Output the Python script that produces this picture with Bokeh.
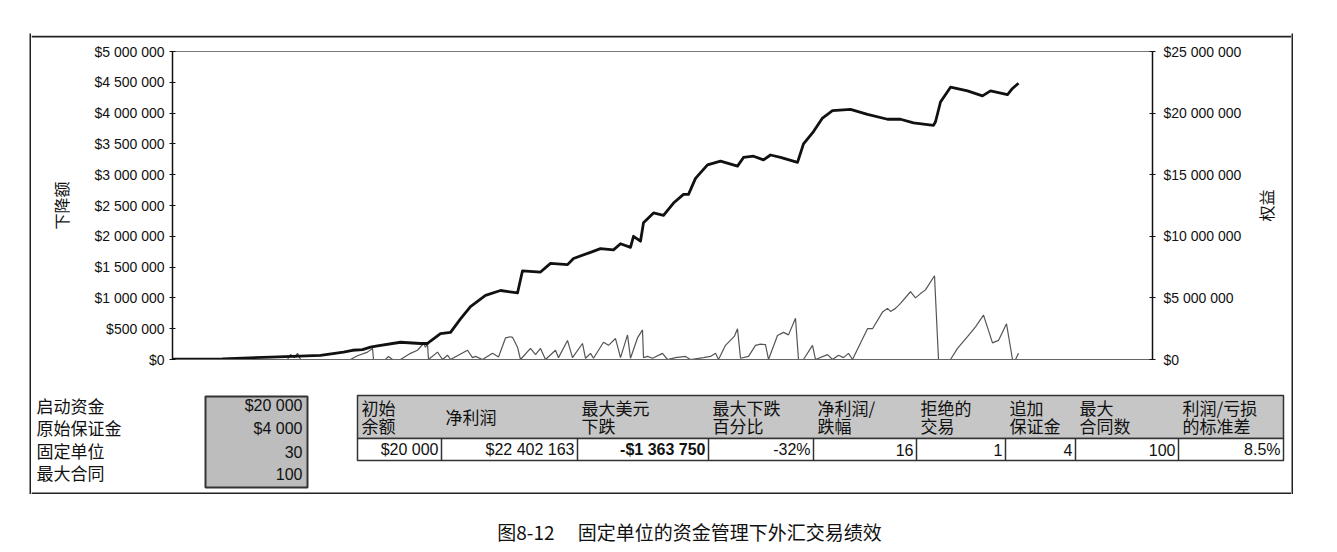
import math
from bokeh.plotting import figure
from bokeh.models import Range1d, LinearAxis, FixedTicker, Spacer, Plot
from bokeh.layouts import column, row
from bokeh.core.properties import value
from bokeh.embed import file_html
from bokeh.resources import INLINE

# ---------------- data ----------------
# trade sequence index (x) and equity in millions of dollars
equity_t = [0, 50, 98, 120, 148, 171, 180, 190, 198, 205, 228, 248, 255, 258, 268, 278, 288, 298,
            313, 328, 345, 350, 368, 378, 395, 401, 418, 428, 441, 448, 458, 461, 468, 471, 481,
            491, 501, 511, 516, 523, 535, 548, 565, 571, 581, 591, 598, 608, 625, 631, 641, 650,
            660, 678, 695, 715, 728, 741, 761, 763, 768, 778, 795, 810, 818, 835, 840, 846]
equity_musd = [0.02, 0.05, 0.2, 0.25, 0.33, 0.6, 0.75, 0.8, 1.0, 1.1, 1.4, 1.3, 1.3, 1.5, 2.1, 2.2, 3.3, 4.3,
               5.2, 5.6, 5.4, 7.2, 7.1, 7.8, 7.7, 8.2, 8.7, 9.0, 8.9, 9.4, 9.1, 10.0, 9.6, 11.1, 11.9,
               11.7, 12.7, 13.4, 13.4, 14.7, 15.8, 16.1, 15.7, 16.4, 16.5, 16.2, 16.6, 16.4, 16.0, 17.5, 18.5, 19.6,
               20.2, 20.3, 19.9, 19.5, 19.5, 19.2, 19.0, 19.3, 20.9, 22.1, 21.8, 21.4, 21.8, 21.5, 22.0, 22.42]

# drawdown in millions of dollars
drawdown_t = [0, 115, 118, 122, 125, 128, 178, 185, 195, 200, 201, 213, 216, 220, 228, 238, 245, 251, 253,
              255, 256, 265, 270, 275, 278, 295, 300, 303, 310, 320, 326, 333, 338, 340, 345, 348, 358,
              363, 368, 373, 383, 386, 395, 400, 410, 413, 418, 421, 431, 436, 443, 448, 455, 458, 465,
              470, 471, 475, 480, 490, 495, 503, 513, 518, 531, 538, 543, 546, 553, 562, 565, 568, 576,
              583, 588, 593, 596, 605, 611, 616, 623, 626, 631, 640, 643, 655, 660, 666, 671, 676, 680,
              695, 700, 710, 715, 718, 723, 728, 738, 743, 748, 753, 762, 766, 778, 785, 795, 803, 811,
              820, 826, 834, 840, 843, 846]
drawdown_musd = [0, 0, 0.08, 0.03, 0.1, 0, 0, 0.06, 0.12, 0.18, 0, 0, 0.05, 0, 0, 0.1, 0.15, 0.26, 0.2,
                 0.25, 0, 0.12, 0, 0.07, 0, 0.15, 0.03, 0.05, 0, 0.1, 0.04, 0.35, 0.37, 0.36, 0.2, 0, 0.18,
                 0.08, 0.18, 0, 0.15, 0.03, 0.31, 0.03, 0.26, 0.02, 0.1, 0.02, 0.28, 0.23, 0.34, 0.03, 0.4, 0.02, 0.35,
                 0.48, 0.03, 0.05, 0.02, 0.1, 0, 0.03, 0.05, 0, 0.03, 0.05, 0.1, 0, 0.23, 0.38, 0.5, 0.02, 0.05,
                 0.23, 0.25, 0.24, 0, 0.39, 0.44, 0.4, 0.67, 0, 0, 0.23, 0, 0.08, 0, 0.07, 0.03, 0.1, 0,
                 0.5, 0.5, 0.77, 0.83, 0.78, 0.83, 0.91, 1.1, 1.0, 1.07, 1.13, 1.36, 0, 0, 0.18, 0.37, 0.53, 0.72,
                 0.27, 0.31, 0.58, 0, 0, 0.1]

left_ticks = [0, 500000, 1000000, 1500000, 2000000, 2500000, 3000000, 3500000, 4000000, 4500000, 5000000]
right_ticks = [0, 5000000, 10000000, 15000000, 20000000, 25000000]

param_labels = ["启动资金", "原始保证金", "固定单位", "最大合同"]
param_values = ["$20 000", "$4 000", "30", "100"]

header_line1 = ["初始", "净利润", "最大美元", "最大下跌", "净利润/", "拒绝的", "追加", "最大", "利润/亏损"]
header_line2 = ["余额", "", "下跌", "百分比", "跌幅", "交易", "保证金", "合同数", "的标准差"]
result_values = ["$20 000", "$22 402 163", "-$1 363 750", "-32%", "16", "1", "4", "100", "8.5%"]

caption = "图8-12\u3000 固定单位的资金管理下外汇交易绩效"
left_axis_title = "下降额"
right_axis_title = "权益"


def money(v):
    return "$" + f"{int(v):,}".replace(",", " ")


CJK = "Noto Sans CJK SC"
LAT = "Liberation Sans"
HAS_FRAME_ALIGN = "frame_align" in Plot.properties()


def no_align(f):
    if HAS_FRAME_ALIGN:
        f.frame_align = False
    return f


def blank_fig(w, h, xr, yr):
    f = figure(width=w, height=h, x_range=Range1d(*xr), y_range=Range1d(*yr),
               toolbar_location=None, output_backend="svg", min_border=0,
               x_axis_location=None, y_axis_location=None)
    f.grid.visible = False
    f.outline_line_color = None
    return no_align(f)


# ---------------- chart ----------------
p = figure(width=1224, height=347, x_range=Range1d(0, 980), y_range=Range1d(0, 5000000),
           toolbar_location=None, output_backend="svg",
           min_border_left=141, min_border_right=103, min_border_top=8, min_border_bottom=31)
p.extra_y_ranges = {"eq": Range1d(0, 25000000)}
p.grid.visible = False
p.outline_line_color = "#777"
p.outline_line_width = 1
p = no_align(p)

xa = p.xaxis[0]
xa.ticker = FixedTicker(ticks=[])
xa.major_label_text_font_size = "0px"
xa.major_tick_line_color = None
xa.minor_tick_line_color = None
xa.axis_line_color = "#666"
xa.axis_line_width = 1

ya = p.yaxis[0]
ya.ticker = FixedTicker(ticks=left_ticks)
ya.major_label_overrides = {v: money(v) for v in left_ticks}
ya.major_label_text_font = LAT
ya.major_label_text_font_size = "14px"
ya.major_label_text_color = "#111"
ya.major_tick_in = 3
ya.major_tick_out = 3
ya.minor_tick_line_color = None
ya.axis_line_color = "#111"
ya.axis_line_width = 1.5
ya.major_tick_line_color = "#111"
ya.major_label_standoff = 5
ya.axis_label = left_axis_title
ya.axis_label_text_font = CJK
ya.axis_label_text_font_size = "16px"
ya.axis_label_text_font_style = "normal"
ya.axis_label_text_color = "#111"
ya.axis_label_standoff = 18

ra = LinearAxis(y_range_name="eq", ticker=FixedTicker(ticks=right_ticks))
ra.major_label_overrides = {v: money(v) for v in right_ticks}
ra.major_label_text_font = LAT
ra.major_label_text_font_size = "14px"
ra.major_label_text_color = "#111"
ra.major_tick_in = 3
ra.major_tick_out = 3
ra.minor_tick_line_color = None
ra.axis_line_color = "#111"
ra.axis_line_width = 1.5
ra.major_tick_line_color = "#111"
ra.major_label_standoff = 8
p.add_layout(ra, "right")

p.line(drawdown_t, [v * 1e6 for v in drawdown_musd], line_color="#555", line_width=1.2)
p.line(equity_t, [v * 1e6 for v in equity_musd], y_range_name="eq", line_color="#111", line_width=2.8,
       line_join="round")

# right axis title (reads bottom-to-top), in a narrow strip right of the chart
rl = blank_fig(36, 347, (1255, 1291), (0, 347))
rl.text(x=[1265], y=[185], text=[right_axis_title], angle=math.pi / 2, text_font=value(CJK),
        text_font_size="16px", text_align="center", text_baseline="middle", text_color="#111")

# ---------------- top strip (outer frame top edge) ----------------
top = blank_fig(1260, 10, (31, 1291), (43, 33))
top.quad(left=[31], right=[1291], top=[33], bottom=[35], fill_color="#222", line_color=None)

# ---------------- tables ----------------
t = blank_fig(1260, 104, (31, 1291), (494, 390))
t.quad(left=[31], right=[1291], top=[492], bottom=[494], fill_color="#222", line_color=None)

param_y = [405, 427, 450, 472]
t.text(x=[36] * 4, y=param_y, text=param_labels, text_font=value(CJK), text_font_size="17px",
       text_baseline="middle", text_align="left", text_color="#111")
t.quad(left=[205], right=[307], top=[396], bottom=[487], fill_color="#bdbdbd", line_color="#333", line_width=2)
t.text(x=[302] * 4, y=[405, 428, 451, 473], text=param_values, text_font=value(LAT), text_font_size="16px",
       text_baseline="middle", text_align="right", text_color="#111")

edges = [357, 441, 577, 708, 813, 916, 1005, 1075, 1178, 1283]
t.quad(left=[edges[0]], right=[edges[-1]], top=[395], bottom=[438], fill_color="#c6c6c6",
       line_color="#333", line_width=1.5)
t.quad(left=[edges[0]], right=[edges[-1]], top=[438], bottom=[460], fill_color="white",
       line_color="#333", line_width=1.5)
inner_edges = edges[1:-1]
t.segment(x0=inner_edges, y0=[438] * len(inner_edges), x1=inner_edges, y1=[460] * len(inner_edges),
          line_color="#333", line_width=1.5)

h1x, h1y, h1t, h2x, h2y, h2t = [], [], [], [], [], []
for i, (a, b) in enumerate(zip(header_line1, header_line2)):
    x0 = edges[i] + 4
    if b:
        h1x.append(x0); h1y.append(407); h1t.append(a)
        h2x.append(x0); h2y.append(425); h2t.append(b)
    else:
        h1x.append(x0); h1y.append(416); h1t.append(a)
t.text(x=h1x, y=h1y, text=h1t, text_font=value(CJK), text_font_size="17px", text_baseline="middle",
       text_align="left", text_color="#111")
t.text(x=h2x, y=h2y, text=h2t, text_font=value(CJK), text_font_size="17px", text_baseline="middle",
       text_align="left", text_color="#111")

nx = [edges[i + 1] - 3 for i in range(len(result_values)) if i != 2]
nt = [result_values[i] for i in range(len(result_values)) if i != 2]
t.text(x=nx, y=[449] * len(nx), text=nt, text_font=value(LAT), text_font_size="16px", text_baseline="middle",
       text_align="right", text_color="#111")
t.text(x=[edges[3] - 3], y=[449], text=[result_values[2]], text_font=value(LAT), text_font_size="16px",
       text_font_style="bold", text_baseline="middle", text_align="right", text_color="#111")

# ---------------- caption ----------------
cap = blank_fig(1337, 58, (0, 1337), (552, 494))
cap.text(x=[689], y=[531], text=[caption], text_font=value(CJK), text_font_size="19px",
         text_baseline="middle", text_align="center", text_color="#111")


def solid(w, h):
    f = blank_fig(w, h, (0, 1), (0, 1))
    f.background_fill_color = "#222"
    f.border_fill_color = "#222"
    return f


inner = column(top, row(p, rl, spacing=0), t, spacing=0)
mid = row(Spacer(width=29, height=461), solid(2, 461), inner, solid(2, 461), spacing=0)
page = column(Spacer(width=1337, height=33), mid, cap, spacing=0)

open("out.html", "w").write(file_html(page, INLINE))
